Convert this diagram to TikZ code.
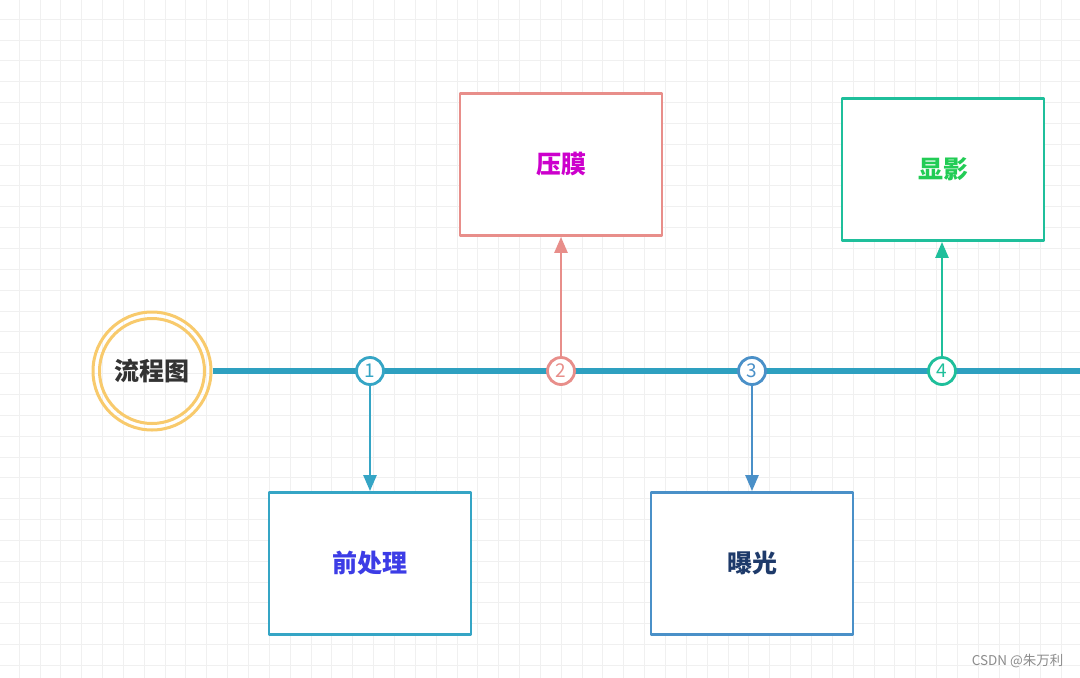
\documentclass[tikz,border=0pt]{standalone}
\usepackage{fontspec}
\setmainfont{Noto Sans CJK SC}
\usetikzlibrary{arrows.meta}

\definecolor{linecol}{HTML}{2EA0C0}
\definecolor{ringcol}{HTML}{F8CA6C}
\definecolor{onecol}{HTML}{35A5C5}
\definecolor{twocol}{HTML}{E88E8A}
\definecolor{threecol}{HTML}{4A90C8}
\definecolor{fourcol}{HTML}{1FBF9B}

\begin{document}
\begin{tikzpicture}[line cap=round, line join=round, x=1pt, y=-1pt,
    gridline/.style={draw=black!6, line width=1},
    mainline/.style={draw=linecol, line width=6.5, line cap=butt},
    numdot/.style={circle, draw=#1, text=#1, fill=white, line width=2.8,
        minimum size=27, inner sep=0, font=\fontsize{19}{19}\selectfont},
    stepbox/.style={rectangle, draw=#1, fill=white, line width=2.8,
        minimum width=202, minimum height=142, font=\fontsize{25}{27}\selectfont\bfseries},
    stepline/.style={draw=#1, line width=2.5, -{Triangle[length=16,width=13]}}]

                \useasboundingbox (0,0) rectangle (1080,678);
                \fill[white] (0,0) rectangle (1080,678);
                \foreach \k in {0,...,52}
                    \draw[gridline] (-1.7+20.85*\k,0) -- (-1.7+20.85*\k,678);
                \foreach \k in {0,...,33}
                    \draw[gridline] (0,-1.7+20.85*\k) -- (1080,-1.7+20.85*\k);

                \node[circle, draw=ringcol, line width=3, minimum size=118, inner sep=0,
                    text=black!80, font=\fontsize{25}{27}\selectfont\bfseries] (start) at (152,371) {流程图};
                \draw[ringcol, line width=3] (start.center) circle (52.5);
                \coordinate (lineend) at (1080,371);
                \draw[mainline] (start.east) -- (lineend);

                \node[numdot=onecol] (n1) at (370,371) {1};
                \node[numdot=twocol] (n2) at (561,371) {2};
                \node[numdot=threecol] (n3) at (752,371) {3};
                \node[numdot=fourcol] (n4) at (942,371) {4};

                \node[stepbox=onecol, text={rgb,255:red,60;green,60;blue,230}] (pre) at (370,563.5) {前处理};
                \node[stepbox=twocol, text={rgb,255:red,204;green,0;blue,204}] (film) at (561,164.5) {压膜};
                \node[stepbox=threecol, text={rgb,255:red,30;green,58;blue,106}] (expo) at (752,563.5) {曝光};
                \node[stepbox=fourcol, text={rgb,255:red,34;green,204;blue,85}] (dev) at (943,169.5) {显影};

                \draw[stepline=onecol] (n1) -- (n1 |- pre.north);
                \draw[stepline=twocol] (n2) -- (n2 |- film.south);
                \draw[stepline=threecol] (n3) -- (n3 |- expo.north);
                \draw[stepline=fourcol] (n4) -- (n4 |- dev.south);

                \node[text=black!45, font=\fontsize{13.5}{14}\selectfont, anchor=east] (mark) at (1067,661) {CSDN @朱万利};

            \end{tikzpicture}
\end{document}
